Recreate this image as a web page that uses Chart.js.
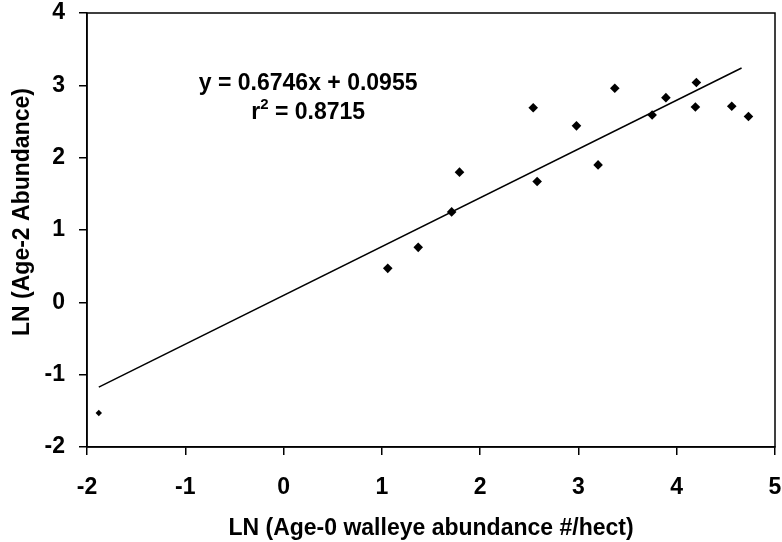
<!DOCTYPE html>
<html lang="en">
<head>
    <meta charset="UTF-8">
    <title>Walleye abundance</title>
    <script src="https://cdn.jsdelivr.net/npm/chart.js"></script>
    <style>
        html, body { margin: 0; padding: 0; background: #fff; }
        #containerCanvas { width: 782px; height: 542px; }
    </style>
</head>
<body>
    <div id="containerCanvas">
        <canvas id="myChart"></canvas>
    </div>

<script>

// LN of age-0 abundance (x) and LN of age-2 abundance (y)
var idade0 = [-1.88, 1.06, 1.37, 1.71, 1.79, 2.54, 2.58, 2.98, 3.20, 3.37, 3.75, 3.89, 4.19, 4.20, 4.56, 4.73];
var idade2 = [-1.53, 0.47, 0.76, 1.25, 1.80, 2.69, 1.67, 2.44, 1.90, 2.96, 2.59, 2.83, 2.70, 3.04, 2.71, 2.57];

// linear fit shown on the chart
var inclinacao = 0.6746;
var intercepto = 0.0955;
var r2 = 0.8715;
var limitesReta = [-1.88, 4.66];

var ticksX = [-2, -1, 0, 1, 2, 3, 4, 5];
var ticksY = [-2, -1, 0, 1, 2, 3, 4];

var tituloX = 'LN (Age-0 walleye abundance #/hect)';
var tituloY = 'LN (Age-2 Abundance)';

var pontos = [];
for (i = 0; i < idade0.length; i++) {
    pontos.push({ x: idade0[i], y: idade2[i] });
}

var reta = [];
for (i = 0; i < limitesReta.length; i++) {
    reta.push({ x: limitesReta[i], y: inclinacao * limitesReta[i] + intercepto });
}

var fonte = "'Liberation Sans', Arial, sans-serif";

// moldura do grafico, titulo do eixo y e texto da equacao
var moldura = {
    id: 'moldura',
    afterDraw: function (chart) {
        var ctx = chart.ctx;
        var area = chart.chartArea;
        ctx.save();
        ctx.strokeStyle = '#000';
        ctx.lineWidth = 1.5;
        ctx.strokeRect(area.left, area.top, area.right - area.left, area.bottom - area.top);

        ctx.fillStyle = '#000';
        ctx.font = 'bold 23px ' + fonte;
        ctx.textAlign = 'center';
        ctx.textBaseline = 'middle';

        // titulo do eixo y, um pouco acima do centro da area
        ctx.save();
        ctx.translate(23, (area.top + area.bottom) / 2 - 18);
        ctx.rotate(-Math.PI / 2);
        ctx.fillText(tituloY, 0, 0);
        ctx.restore();

        var sx = chart.scales.x, sy = chart.scales.y;
        var cx = sx.getPixelForValue(0.25);
        ctx.fillText('y = ' + inclinacao.toFixed(4) + 'x + ' + intercepto.toFixed(4), cx, sy.getPixelForValue(3.03));

        var yR = sy.getPixelForValue(2.62);
        var resto = ' = ' + r2.toFixed(4);
        var wr = ctx.measureText('r').width;
        ctx.font = 'bold 15px ' + fonte;
        var w2 = ctx.measureText('2').width;
        ctx.font = 'bold 23px ' + fonte;
        var wResto = ctx.measureText(resto).width;
        var x0 = cx - (wr + w2 + wResto) / 2;
        ctx.textAlign = 'left';
        ctx.fillText('r', x0, yR);
        ctx.font = 'bold 15px ' + fonte;
        ctx.fillText('2', x0 + wr, yR - 8);
        ctx.font = 'bold 23px ' + fonte;
        ctx.fillText(resto, x0 + wr + w2, yR);
        ctx.restore();
    }
};

var dados = {
    datasets: [
        {
            type: 'scatter',
            label: 'Observado',
            data: pontos,
            pointStyle: 'rectRot',
            pointRadius: function (c) { return c.dataIndex === 0 ? 3.2 : 4.8; },
            backgroundColor: '#000',
            borderColor: '#000',
            borderWidth: 0
        },
        {
            type: 'line',
            label: 'Tendencia',
            data: reta,
            borderColor: '#000',
            borderWidth: 1.5,
            pointRadius: 0,
            fill: false
        }
    ]
};

var options = {
    responsive: false,
    animation: false,
    layout: { padding: { top: 13, right: 7, left: 0, bottom: 0 } },
    plugins: {
        legend: { display: false },
        tooltip: { enabled: false }
    },
    scales: {
        x: {
            type: 'linear',
            min: -2,
            max: 5,
            afterBuildTicks: function (s) { s.ticks = ticksX.map(function (v) { return { value: v }; }); },
            afterFit: function (s) { s.height = 95; s.paddingLeft = 0; s.paddingRight = 0; },
            ticks: { color: '#000', font: { family: fonte, size: 23, weight: 'bold' }, padding: 19 },
            grid: { drawOnChartArea: false, tickLength: 8, color: '#000', lineWidth: 1.5 },
            border: { color: '#000', width: 1.5 },
            title: {
                display: true,
                text: tituloX,
                color: '#000',
                font: { family: fonte, size: 23, weight: 'bold' },
                padding: { top: 0, bottom: 0 }
            }
        },
        y: {
            type: 'linear',
            min: -2,
            max: 4,
            afterBuildTicks: function (s) { s.ticks = ticksY.map(function (v) { return { value: v }; }); },
            afterFit: function (s) { s.width = 87; s.paddingTop = 0; s.paddingBottom = 0; },
            ticks: { color: '#000', font: { family: fonte, size: 23, weight: 'bold' }, padding: 14 },
            grid: { drawOnChartArea: false, tickLength: 8, color: '#000', lineWidth: 1.5 },
            border: { color: '#000', width: 1.5 }
        }
    }
};

var canvas = document.getElementById('myChart');
canvas.width = 782;
canvas.height = 542;
canvas.style.width = '782px';
canvas.style.height = '542px';

let myChart = new Chart(canvas, {
    type: 'scatter',
    data: dados,
    options: options,
    plugins: [moldura]
});

</script>
</body>
</html>
